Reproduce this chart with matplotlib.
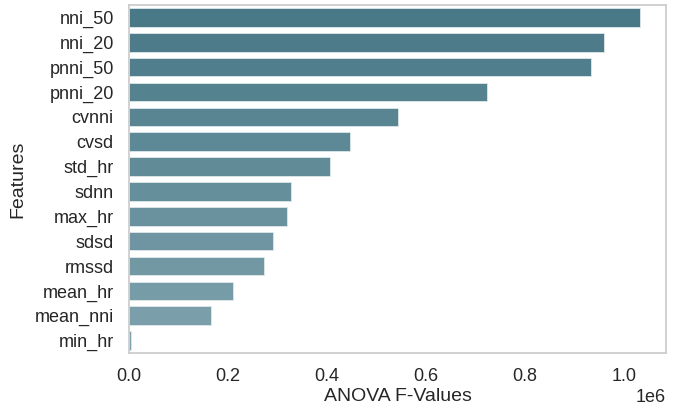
import matplotlib
matplotlib.use("Agg")
import matplotlib.pyplot as plt
import seaborn as sns

# ANOVA F-values per feature (in units of 1e6)
features = ['nni_50', 'nni_20', 'pnni_50', 'pnni_20', 'cvnni', 'cvsd', 'std_hr',
            'sdnn', 'max_hr', 'sdsd', 'rmssd', 'mean_hr', 'mean_nni', 'min_hr']
f_values = [1.032, 0.960, 0.933, 0.723, 0.543, 0.446, 0.406,
            0.327, 0.319, 0.291, 0.273, 0.210, 0.166, 0.004]
f_values = [v * 1e6 for v in f_values]

sns.set_theme(style="whitegrid", context="notebook")
plt.rcParams['font.family'] = ['Liberation Sans', 'DejaVu Sans']

fig = plt.figure(figsize=(6.98, 4.11), dpi=100)
ax = fig.add_axes([0.1848, 0.141, 0.7692, 0.847])

colors = sns.blend_palette(["#497886", "#7ea2ad"], len(features))
ax.barh(range(len(features)), f_values, height=0.75, color=colors,
        edgecolor="#dfe8eb", linewidth=0.6)

ax.set_yticks(range(len(features)))
ax.set_yticklabels(features)
ax.set_ylim(len(features) - 0.5, -0.5)
ax.set_xlim(0, 1.085e6)
ax.grid(False)
for s in ax.spines.values():
    s.set_color("#cccccc")
    s.set_linewidth(1.25)

ax.set_xlabel("ANOVA F-Values", fontsize=14, labelpad=2)
ax.set_ylabel("Features", fontsize=14, labelpad=6)
ax.tick_params(labelsize=13, pad=5)
ax.xaxis.get_offset_text().set_fontsize(13)

fig.savefig("out.png", dpi=100)
